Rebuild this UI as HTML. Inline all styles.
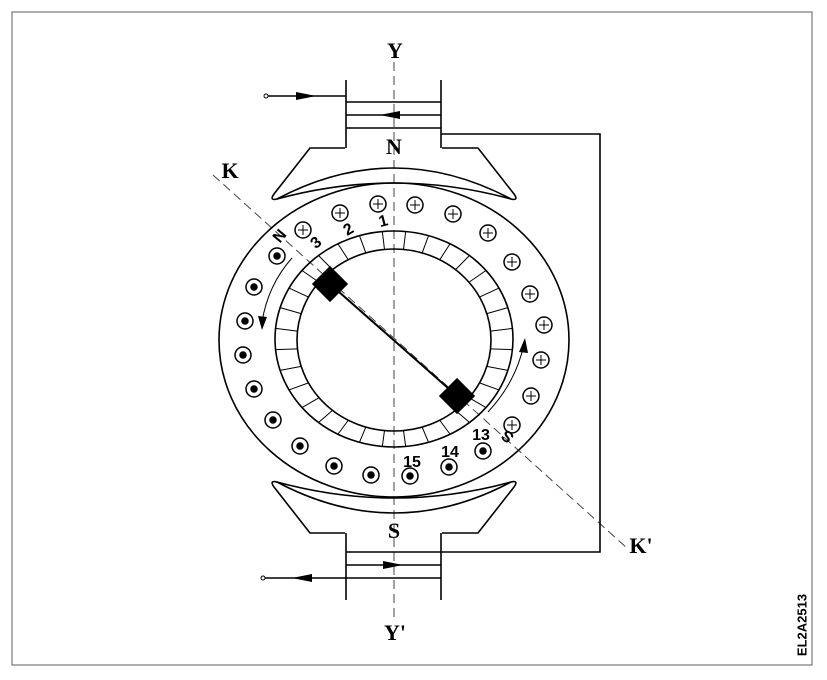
<!DOCTYPE html>
<html><head><meta charset="utf-8"><style>
html,body{margin:0;padding:0;background:#fff;}
svg{display:block;}
.sr{font-family:"Liberation Serif",serif;}
.ss{font-family:"Liberation Sans",sans-serif;}
</style></head><body>
<svg id="s" width="827" height="680" viewBox="0 0 827 680" xmlns="http://www.w3.org/2000/svg" fill="none" stroke="#000" stroke-width="1.6">
<rect x="12" y="12" width="800" height="653" stroke="#777" stroke-width="1.2"/>
<line x1="394" y1="62" x2="394" y2="620" stroke-dasharray="9,5" stroke-width="1" stroke="#444"/>
<line x1="213" y1="175" x2="628" y2="549" stroke-dasharray="9,5" stroke-width="1" stroke="#444"/>
<g class="sr" fill="#000" stroke="none" font-weight="bold" font-size="22" text-anchor="middle">
<text x="395" y="58">Y</text>
<text x="395" y="640">Y'</text>
<text x="394" y="154">N</text>
<text x="394" y="538">S</text>
<text x="230" y="178">K</text>
<text x="641" y="553">K'</text>
</g>
<line x1="346" y1="80" x2="346" y2="148"/>
<line x1="441" y1="80" x2="441" y2="148"/>
<line x1="346" y1="533" x2="346" y2="600"/>
<line x1="441" y1="533" x2="441" y2="600"/>
<line x1="266" y1="96" x2="346" y2="96"/>
<circle cx="266" cy="96" r="2" fill="#fff" stroke-width="1"/>
<path d="M296,92 L316,96 L296,100 Z" fill="#000" stroke="none"/>
<line x1="346" y1="102" x2="441" y2="102"/>
<line x1="346" y1="115" x2="441" y2="115"/>
<line x1="346" y1="128" x2="441" y2="128"/>
<path d="M400,111 L380,115 L400,119 Z" fill="#000" stroke="none"/>
<polyline points="441,134 600,134 600,552 441,552"/>
<line x1="346" y1="552" x2="441" y2="552"/>
<line x1="346" y1="565" x2="441" y2="565"/>
<line x1="263" y1="578" x2="441" y2="578"/>
<circle cx="263" cy="578" r="2" fill="#fff" stroke-width="1"/>
<path d="M383,561 L403,565 L383,569 Z" fill="#000" stroke="none"/>
<path d="M312,574 L292,578 L312,582 Z" fill="#000" stroke="none"/>
<!-- pole shoes -->
<path d="M345,148 L310,148 L274,194 Q269,201 277,199 Q394,137 511,199 Q519,201 514,194 L478,148 L442,148"/>
<path d="M277,199 Q394,167 511,199"/>
<path d="M345,533 L310,533 L274,487 Q269,480 277,482 Q394,544 511,482 Q519,480 514,487 L478,533 L442,533"/>
<path d="M277,482 Q394,514 511,482"/>
<ellipse cx="394" cy="340" rx="175" ry="157"/>
<ellipse cx="394" cy="339" rx="119" ry="108"/>
<ellipse cx="394" cy="340" rx="97" ry="91"/>
<g id="seg" stroke-width="1"></g>
<g id="cond" stroke-width="1.5"></g>
<line x1="330" y1="284" x2="457" y2="396" stroke-width="2"/>
<rect x="318" y="272" width="24" height="24" fill="#000" transform="rotate(45 330 284)"/>
<rect x="445" y="384" width="24" height="24" fill="#000" transform="rotate(45 457 396)"/>
<path d="M292,258 Q268,285 262,322" stroke-width="1"/>
<path d="M258,316 L262,330 L267,317 Z" fill="#000" stroke="none"/>
<path d="M488,412 Q516,382 524,344" stroke-width="1"/>
<path d="M519,352 L525,338 L528,353 Z" fill="#000" stroke="none"/>
<g class="ss" fill="#000" stroke="none" font-weight="bold" font-size="16" text-anchor="middle">
<text x="384" y="226" transform="rotate(-15 384 224)">1</text>
<text x="350" y="234" transform="rotate(-30 350 232)">2</text>
<text x="318" y="247" transform="rotate(-40 318 245)">3</text>
<text x="282" y="240" transform="rotate(-50 282 238)">N</text>
<text x="481" y="440">13</text>
<text x="450" y="457">14</text>
<text x="412" y="467">15</text>
<text x="507" y="443" transform="rotate(-140 507 437)">S</text>
<text x="803" y="625" font-size="13" transform="rotate(-90 803 625)" dominant-baseline="middle">EL2A2513</text>
</g>
</svg>
<script>
var NS="http://www.w3.org/2000/svg";
var seg=document.getElementById("seg");
for(var i=0;i<32;i++){var a=(i+0.5)*Math.PI*2/32;
var l=document.createElementNS(NS,"line");
l.setAttribute("x1",394+97*Math.cos(a));l.setAttribute("y1",340+91*Math.sin(a));
l.setAttribute("x2",394+119*Math.cos(a));l.setAttribute("y2",339+108*Math.sin(a));
seg.appendChild(l);}
var plus=[[303,230],[340,213],[378,204],[415,205],[453,214],[488,233],[512,262],[530,294],[544,325],[541,360],[531,396],[512,425]];
var dot=[[277,256],[254,287],[245,321],[243,355],[254,389],[273,420],[300,446],[334,466],[371,475],[410,476],[449,467],[483,451]];
var c=document.getElementById("cond");
plus.forEach(function(p){var e=document.createElementNS(NS,"circle");e.setAttribute("cx",p[0]);e.setAttribute("cy",p[1]);e.setAttribute("r",8);c.appendChild(e);
var l1=document.createElementNS(NS,"line");l1.setAttribute("x1",p[0]-5);l1.setAttribute("y1",p[1]);l1.setAttribute("x2",p[0]+5);l1.setAttribute("y2",p[1]);l1.setAttribute("stroke-width","1");c.appendChild(l1);
var l2=document.createElementNS(NS,"line");l2.setAttribute("x1",p[0]);l2.setAttribute("y1",p[1]-5);l2.setAttribute("x2",p[0]);l2.setAttribute("y2",p[1]+5);l2.setAttribute("stroke-width","1");c.appendChild(l2);});
dot.forEach(function(p){var e=document.createElementNS(NS,"circle");e.setAttribute("cx",p[0]);e.setAttribute("cy",p[1]);e.setAttribute("r",8);c.appendChild(e);
var d=document.createElementNS(NS,"circle");d.setAttribute("cx",p[0]);d.setAttribute("cy",p[1]);d.setAttribute("r",3);d.setAttribute("fill","#000");c.appendChild(d);});
</script>
</body></html>
